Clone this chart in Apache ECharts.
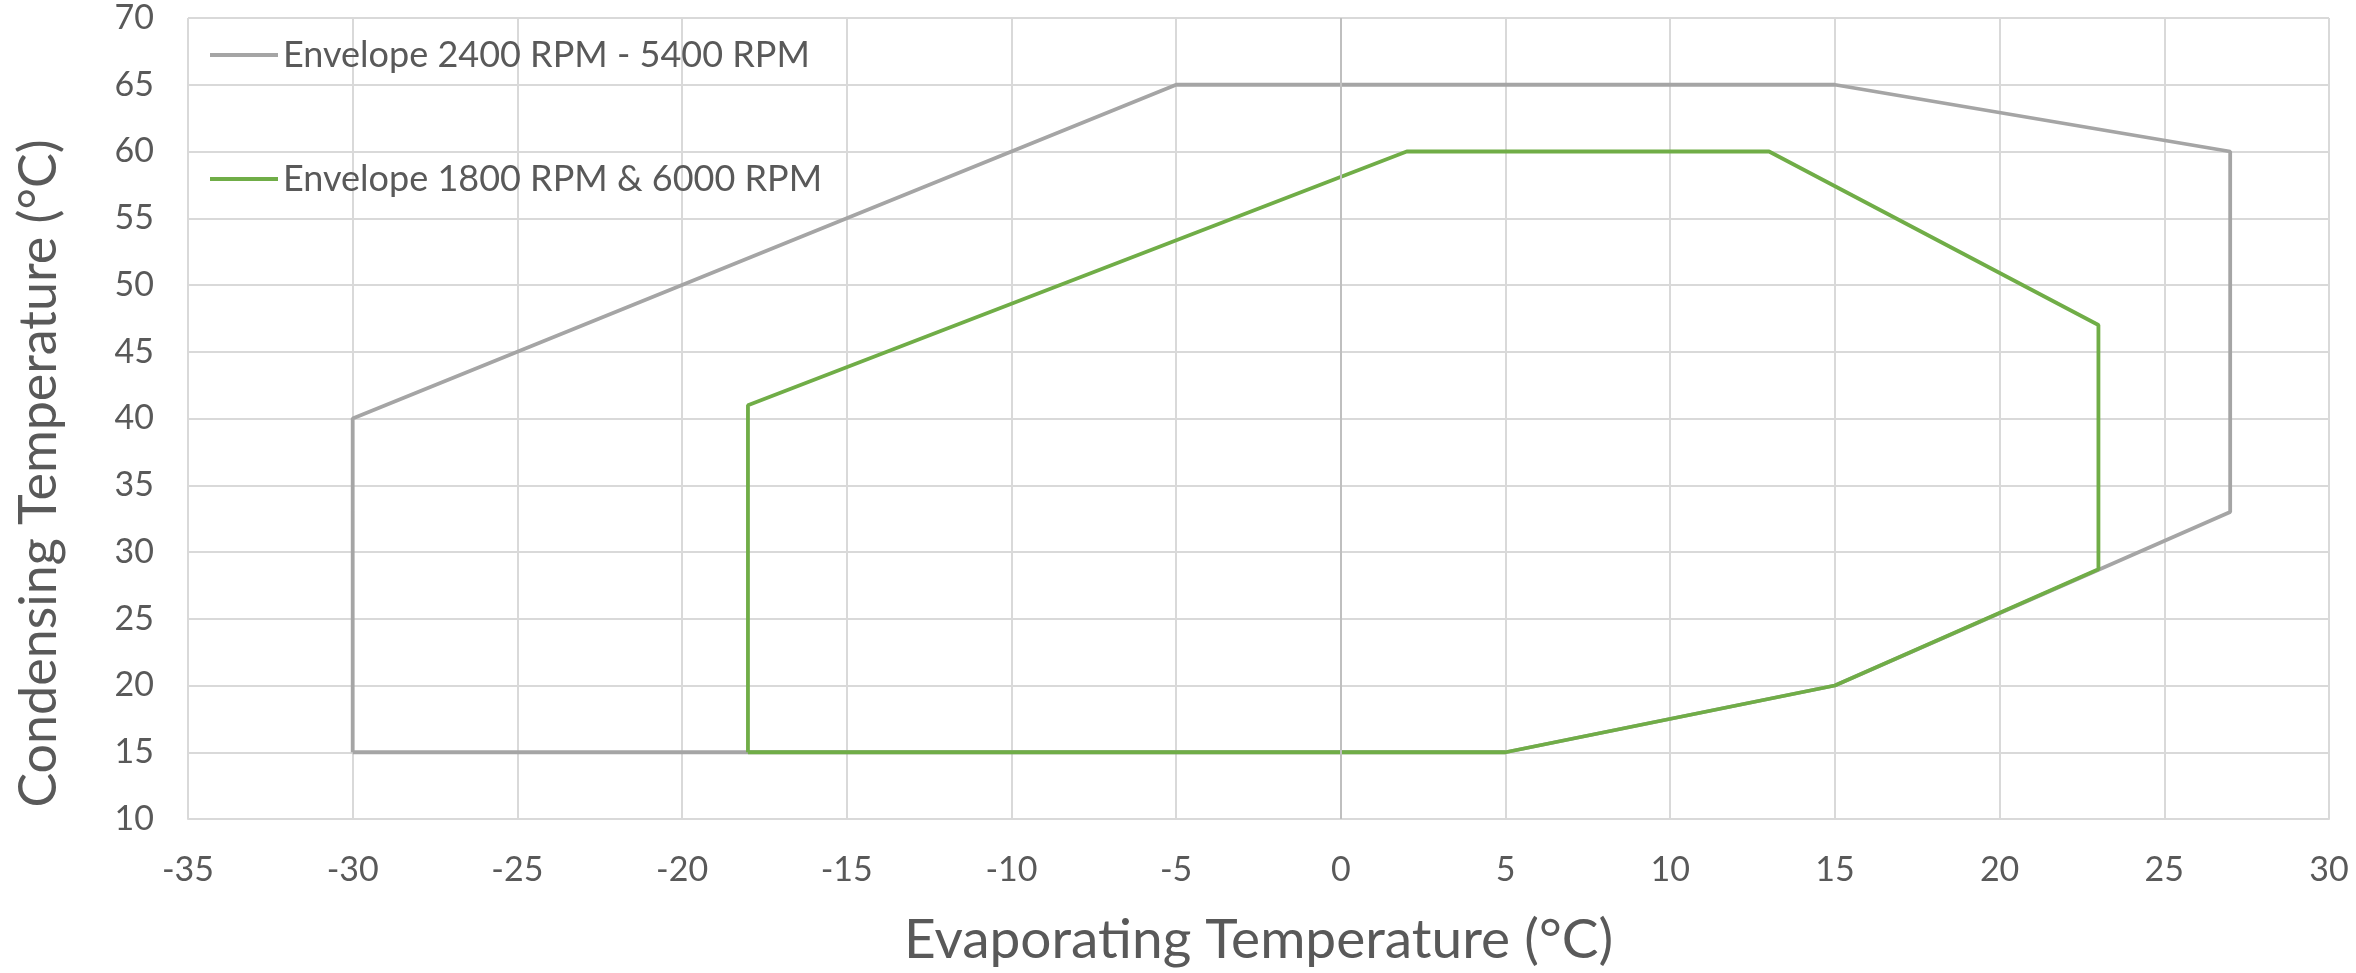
<!DOCTYPE html>
<html>
<head>
<meta charset="utf-8">
<script src="https://cdn.jsdelivr.net/npm/echarts@6/dist/echarts.min.js"></script>
<style>
  html, body { margin: 0; padding: 0; background: #fff; }
  #chart { width: 2356px; height: 973px; }
</style>
</head>
<body>
<div id="chart"></div>
<script>
// envelope outlines, [evaporating, condensing] in °C
const outerName = "Envelope 2400 RPM - 5400 RPM";
const outerEvap = [-30, -30, -5, 15, 27, 27, 15, 5, -30];
const outerCond = [15, 40, 65, 65, 60, 33, 20, 15, 15];

const innerName = "Envelope 1800 RPM & 6000 RPM";
const innerEvap = [-18, -18, 2, 13, 23, 23, 15, 5, -18];
const innerCond = [15, 41, 60, 60, 47, 28.7, 20, 15, 15];

const xTitle = "Evaporating Temperature (°C)";
const yTitle = "Condensing Temperature (°C)";

const zip = (xs, ys) => xs.map((x, i) => [x, ys[i]]);

const font = "Lato, 'Open Sans', sans-serif";
const textColor = "#595959";
const gridColor = "#D9D9D9";

const chart = echarts.init(document.getElementById("chart"));

chart.setOption({
  animation: false,
  textStyle: { fontFamily: font },
  grid: { left: 188, right: 27, top: 18, bottom: 154, containLabel: false },
  legend: [
    {
      data: [outerName],
      left: 205, top: 32,
      icon: "rect", itemWidth: 68, itemHeight: 4, itemGap: 0,
      textStyle: { fontSize: 36, color: textColor, fontFamily: font }
    },
    {
      data: [innerName],
      left: 205, top: 156,
      icon: "rect", itemWidth: 68, itemHeight: 4, itemGap: 0,
      textStyle: { fontSize: 36, color: textColor, fontFamily: font }
    }
  ],
  xAxis: {
    type: "value",
    min: -35, max: 30, interval: 5,
    name: xTitle,
    nameLocation: "middle",
    nameGap: 94,
    nameTextStyle: { fontSize: 55, color: textColor, fontFamily: font },
    axisLine: { show: true, onZero: false, lineStyle: { color: gridColor, width: 2 } },
    axisTick: { show: false },
    axisLabel: { fontSize: 34, color: textColor, margin: 34 },
    splitLine: { show: true, lineStyle: { color: gridColor, width: 2 } }
  },
  yAxis: {
    type: "value",
    min: 10, max: 70, interval: 5,
    name: yTitle,
    nameLocation: "middle",
    nameGap: 123,
    // extra right padding pushes the rotated title down a little
    nameTextStyle: { fontSize: 52, color: textColor, fontFamily: font, padding: [0, 110, 0, 0] },
    axisLine: { show: false, onZero: false },
    axisTick: { show: false },
    axisLabel: { fontSize: 34, color: textColor, margin: 34 },
    splitLine: { show: true, lineStyle: { color: gridColor, width: 2 } }
  },
  series: [
    {
      name: outerName,
      type: "line",
      data: zip(outerEvap, outerCond),
      showSymbol: false,
      symbol: "none",
      color: "#A5A5A5",
      lineStyle: { color: "#A5A5A5", width: 3.8 },
      // vertical axis line crossing at 0
      markLine: {
        silent: true,
        symbol: "none",
        label: { show: false },
        lineStyle: { color: "#BFBFBF", width: 2, type: "solid" },
        data: [{ xAxis: 0 }]
      },
      z: 2
    },
    {
      name: innerName,
      type: "line",
      data: zip(innerEvap, innerCond),
      showSymbol: false,
      symbol: "none",
      color: "#70AD47",
      lineStyle: { color: "#70AD47", width: 3.8 },
      z: 3
    }
  ]
});
</script>
</body>
</html>
